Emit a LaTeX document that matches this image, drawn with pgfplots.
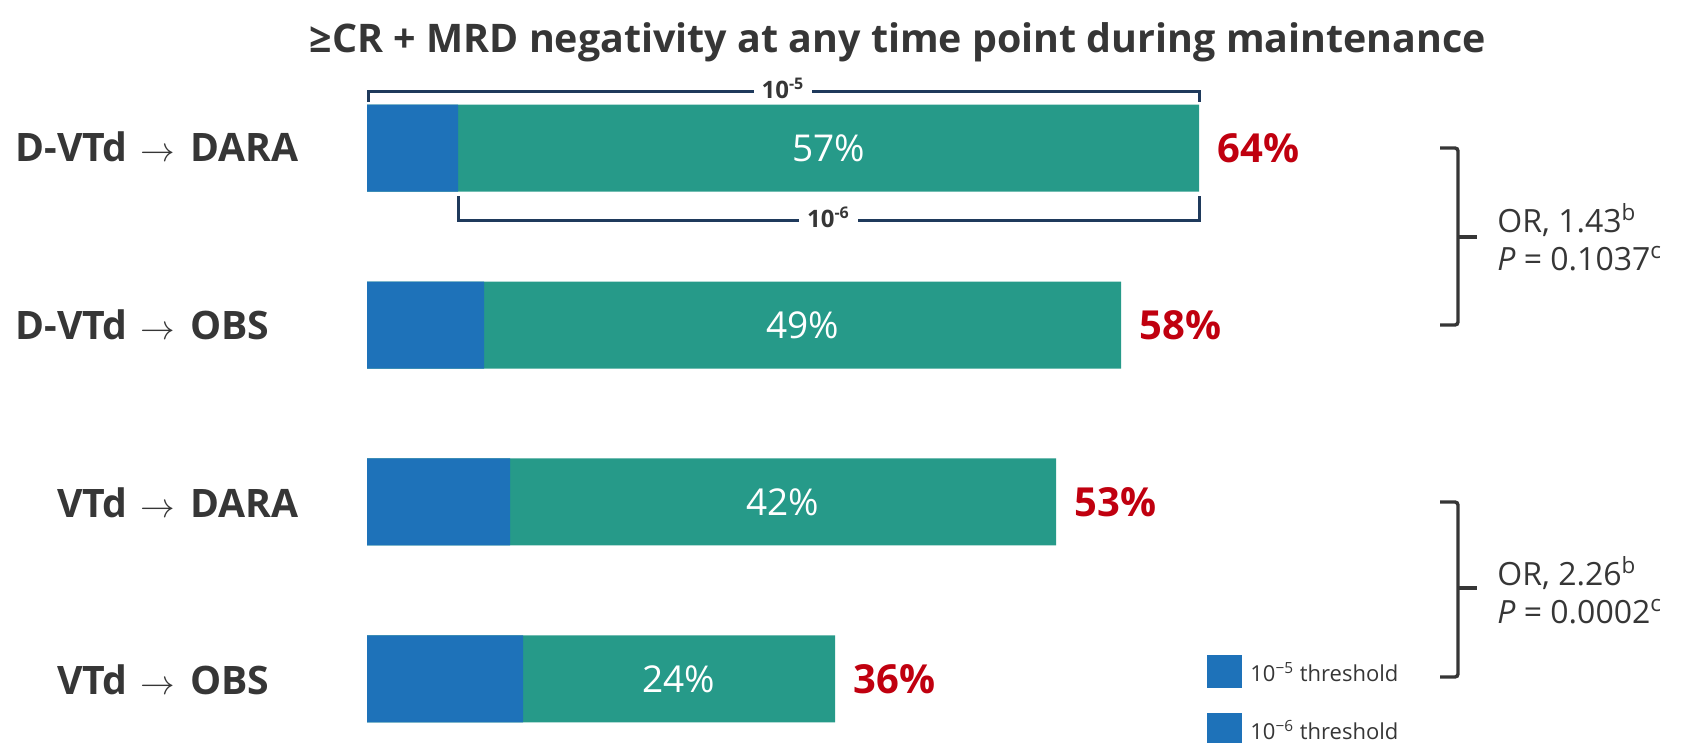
\documentclass[border=0pt]{standalone}
\usepackage{pgfplots}
\pgfplotsset{compat=1.18}
\usepackage{pgfplotstable}
\usepackage{fontspec}
\setmainfont{Open Sans}

\definecolor{barblue}{HTML}{1E72B9}
\definecolor{barteal}{HTML}{269A89}
\definecolor{totred}{HTML}{C0000F}
\definecolor{navy}{HTML}{1F3A5C}
\definecolor{txt}{HTML}{363636}

% MRD-negativity rates (%): t5 = 10^-5 threshold, t6 = 10^-6 threshold
\pgfplotstableread{
row t5 t6
0 64 57
1 58 49
2 53 42
3 36 24
}\mrdtable

\begin{document}
\begin{tikzpicture}
% canvas: 1 unit = 0.5pt, origin at the top-left corner
\path[use as bounding box] (0,0) rectangle (840.5pt,-371.5pt);

\begin{axis}[
  at={(183.5pt,-47.5pt)}, anchor=north west,
  scale only axis, width=650pt, height=318.5pt,
  xmin=0, xmax=100, ymin=-0.3, ymax=3.3, y dir=reverse,
  hide axis, clip=false,
  xbar, bar width=43.5pt,
  every axis plot post/.append style={bar shift=0pt},
  /pgf/number format/assume math mode=true,
]
% whole bar = rate at the 10^-5 threshold, total printed in red
\addplot[fill=barteal, draw=none,
  nodes near coords={\pgfmathprintnumber{\pgfplotspointmeta}\%}, point meta=x,
  every node near coord/.append style={text=totred,
    font=\fontsize{20}{24}\selectfont\bfseries, anchor=west, inner sep=0pt, xshift=9pt}]
  table[x=t5, y=row] {\mrdtable};
% part that is negative only at 10^-5
\addplot[fill=barblue, draw=none]
  table[x expr=\thisrow{t5}-\thisrow{t6}, y=row] {\mrdtable};
% 10^-6 rate written in the middle of the teal segment
\addplot[draw=none, fill=none,
  nodes near coords={\pgfmathprintnumber{\pgfplotspointmeta}\%}, point meta=explicit,
  every node near coord/.append style={text=white,
    font=\fontsize{18.5}{22}\selectfont, anchor=center, inner sep=0pt}]
  table[x expr=\thisrow{t5}-\thisrow{t6}/2, y=row, meta=t6] {\mrdtable};

% threshold brackets over and under the first bar
\draw[navy, line width=1.5pt]
  ([yshift=23pt]axis cs:0.15,0) -- ([yshift=28.5pt]axis cs:0.15,0)
  -- ([yshift=28.5pt]axis cs:64,0) -- ([yshift=23pt]axis cs:64,0);
\node[fill=white, inner xsep=4pt, inner ysep=1pt, text=txt, font=\fontsize{12}{13}\selectfont\bfseries]
  at ([yshift=30pt]axis cs:32,0) {10\textsuperscript{-5}};
\draw[navy, line width=1.5pt]
  ([yshift=-24pt]axis cs:7,0) -- ([yshift=-36pt]axis cs:7,0)
  -- ([yshift=-36pt]axis cs:64,0) -- ([yshift=-24pt]axis cs:64,0);
\node[fill=white, inner xsep=4pt, inner ysep=1pt, text=txt, font=\fontsize{12}{13}\selectfont\bfseries]
  at ([yshift=-34.5pt]axis cs:35.5,0) {10\textsuperscript{-6}};
\end{axis}

\begin{scope}[x=0.5pt, y=0.5pt]
% title
\node[text=txt, font=\fontsize{19.7}{23}\selectfont\bfseries] at (898,-42)
  {≥CR + MRD negativity at any time point during maintenance};

% arm labels, aligned on the arrow
\foreach \yy/\lft/\rgt in {148/D-VTd/DARA, 325/D-VTd/OBS, 503/VTd/DARA, 680/VTd/OBS}{
  \node[anchor=base east, inner sep=0pt, text=txt, font=\fontsize{19.6}{22}\selectfont\bfseries]
    at (128,-\yy-14) {\lft};
  \node[anchor=base, inner sep=0pt, text=txt, font=\fontsize{17}{20}\selectfont]
    at (158,-\yy-14) {$\rightarrow$};
  \node[anchor=base west, inner sep=0pt, text=txt, font=\fontsize{19.6}{22}\selectfont\bfseries]
    at (190,-\yy-14) {\rgt};
}

% comparison brackets with odds ratios
\draw[txt, line width=1.7pt, rounded corners=1.5pt]
  (1440,-148) -- (1458,-148) -- (1458,-325) -- (1440,-325);
\draw[txt, line width=1.7pt] (1458,-237) -- (1477,-237);
\node[anchor=west, text=txt, font=\fontsize{16}{19}\selectfont, align=left, inner sep=0pt]
  at (1497,-237) {OR, 1.43\textsuperscript{b}\\\textit{P} = 0.1037\textsuperscript{c}};
\draw[txt, line width=1.7pt, rounded corners=1.5pt]
  (1440,-502) -- (1458,-502) -- (1458,-677) -- (1440,-677);
\draw[txt, line width=1.7pt] (1458,-588) -- (1477,-588);
\node[anchor=west, text=txt, font=\fontsize{16}{19}\selectfont, align=left, inner sep=0pt]
  at (1497,-590) {OR, 2.26\textsuperscript{b}\\\textit{P} = 0.0002\textsuperscript{c}};

% legend
\fill[barblue] (1207,-655) rectangle (1242,-688);
\node[anchor=west, text=txt, font=\fontsize{11}{13}\selectfont, inner sep=0pt]
  at (1250,-672) {10\textsuperscript{−5} threshold};
\fill[barblue] (1207,-713) rectangle (1242,-746);
\node[anchor=west, text=txt, font=\fontsize{11}{13}\selectfont, inner sep=0pt]
  at (1250,-730) {10\textsuperscript{−6} threshold};
\end{scope}
\end{tikzpicture}
\end{document}
